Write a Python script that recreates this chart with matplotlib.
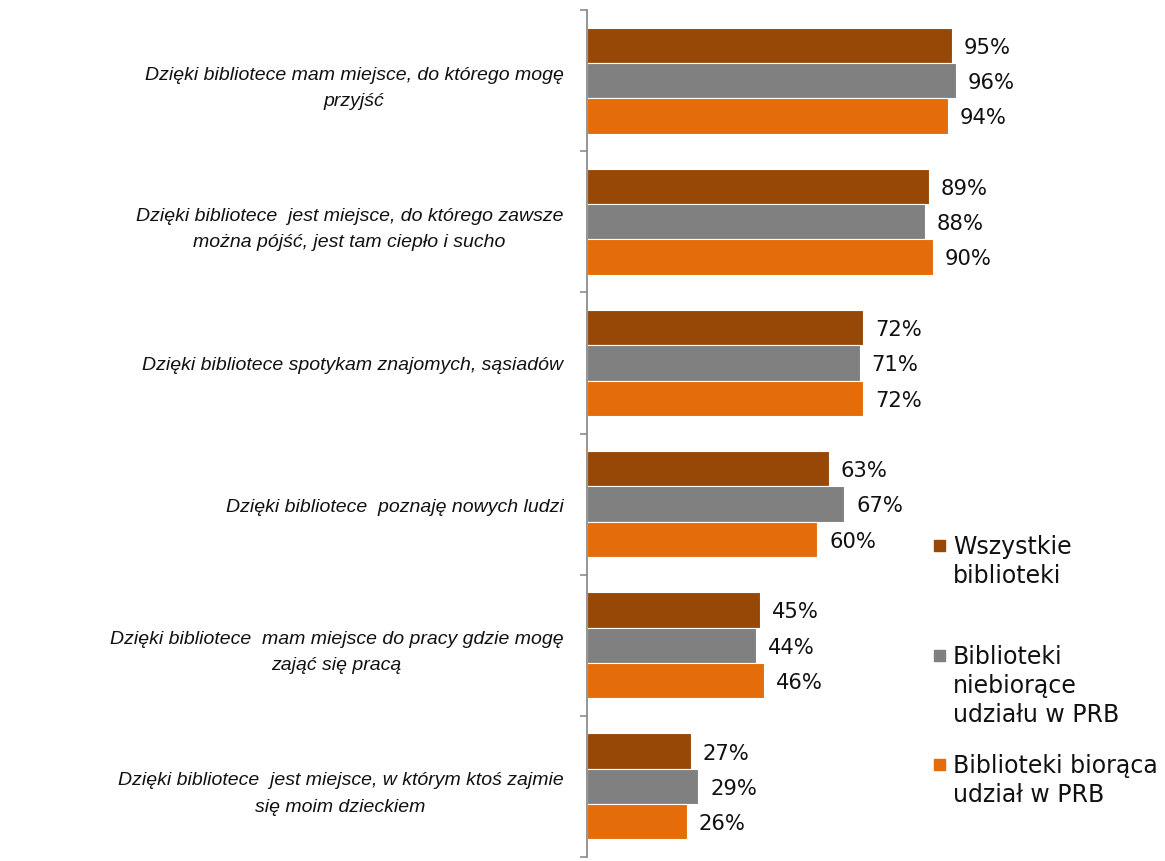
import matplotlib
matplotlib.use("Agg")
import matplotlib.pyplot as plt
from matplotlib.patches import Rectangle

categories = [
    "Dzięki bibliotece mam miejsce, do którego mogę\nprzyjść",
    "Dzięki bibliotece  jest miejsce, do którego zawsze\nmożna pójść, jest tam ciepło i sucho",
    "Dzięki bibliotece spotykam znajomych, sąsiadów",
    "Dzięki bibliotece  poznaję nowych ludzi",
    "Dzięki bibliotece  mam miejsce do pracy gdzie mogę\nzająć się pracą",
    "Dzięki bibliotece  jest miejsce, w którym ktoś zajmie\nsię moim dzieckiem",
]
series_names = [
    "Wszystkie\nbiblioteki",
    "Biblioteki\nniebiorące\nudziału w PRB",
    "Biblioteki biorąca\nudział w PRB",
]
wszystkie = [95, 89, 72, 63, 45, 27]
niebiorace = [96, 88, 71, 67, 44, 29]
biorace = [94, 90, 72, 60, 46, 26]
colors = ["#974807", "#808080", "#E46C0A"]

W, H = 1165, 862
fig = plt.figure(figsize=(W / 100, H / 100), dpi=100)
ax = fig.add_axes([587 / W, 4 / H, 384 / W, 847 / H])

bh = 0.25
offsets = [-bh, 0, bh]
all_series = [wszystkie, niebiorace, biorace]
ypos = list(range(len(categories)))
for vals, off, col in zip(all_series, offsets, colors):
    ys = [y + off for y in ypos]
    ax.barh(ys, vals, height=bh, color=col, edgecolor="white", linewidth=0.8)
    for y, v in zip(ys, vals):
        ax.annotate(f"{v}%", (v, y), xytext=(8.5, -1), textcoords="offset points",
                    ha="left", va="center", fontsize=15.2, color="#111111",
                    family="DejaVu Sans")

ax.set_xlim(0, 100)
ax.set_ylim(len(categories) - 0.5, -0.5)
ax.set_yticks(ypos)
ax.set_yticklabels(categories, fontsize=14, style="italic", family="Liberation Sans",
                   multialignment="center", color="#111111", linespacing=1.7)
ax.set_yticks([i - 0.5 for i in range(len(categories) + 1)], minor=True)
ax.tick_params(axis="y", which="major", length=0, pad=17)
ax.tick_params(axis="y", which="minor", length=5, width=1.2, color="#8C8C8C")
ax.set_xticks([])
for s in ["top", "right", "bottom"]:
    ax.spines[s].set_visible(False)
ax.spines["left"].set_color("#8C8C8C")
ax.spines["left"].set_linewidth(1.3)

# legend (manual placement)
leg_y = [546, 656, 765]
for name, col, yc in zip(series_names, colors, leg_y):
    fig.add_artist(Rectangle((934 / W, 1 - (yc + 5.5) / H), 11 / W, 11 / H,
                             transform=fig.transFigure, color=col))
    fig.text(953 / W, 1 - (yc - 11) / H, name, ha="left", va="top", fontsize=17,
             family="DejaVu Sans", linespacing=1.27, color="#111111")

fig.savefig("out.png", dpi=100)
